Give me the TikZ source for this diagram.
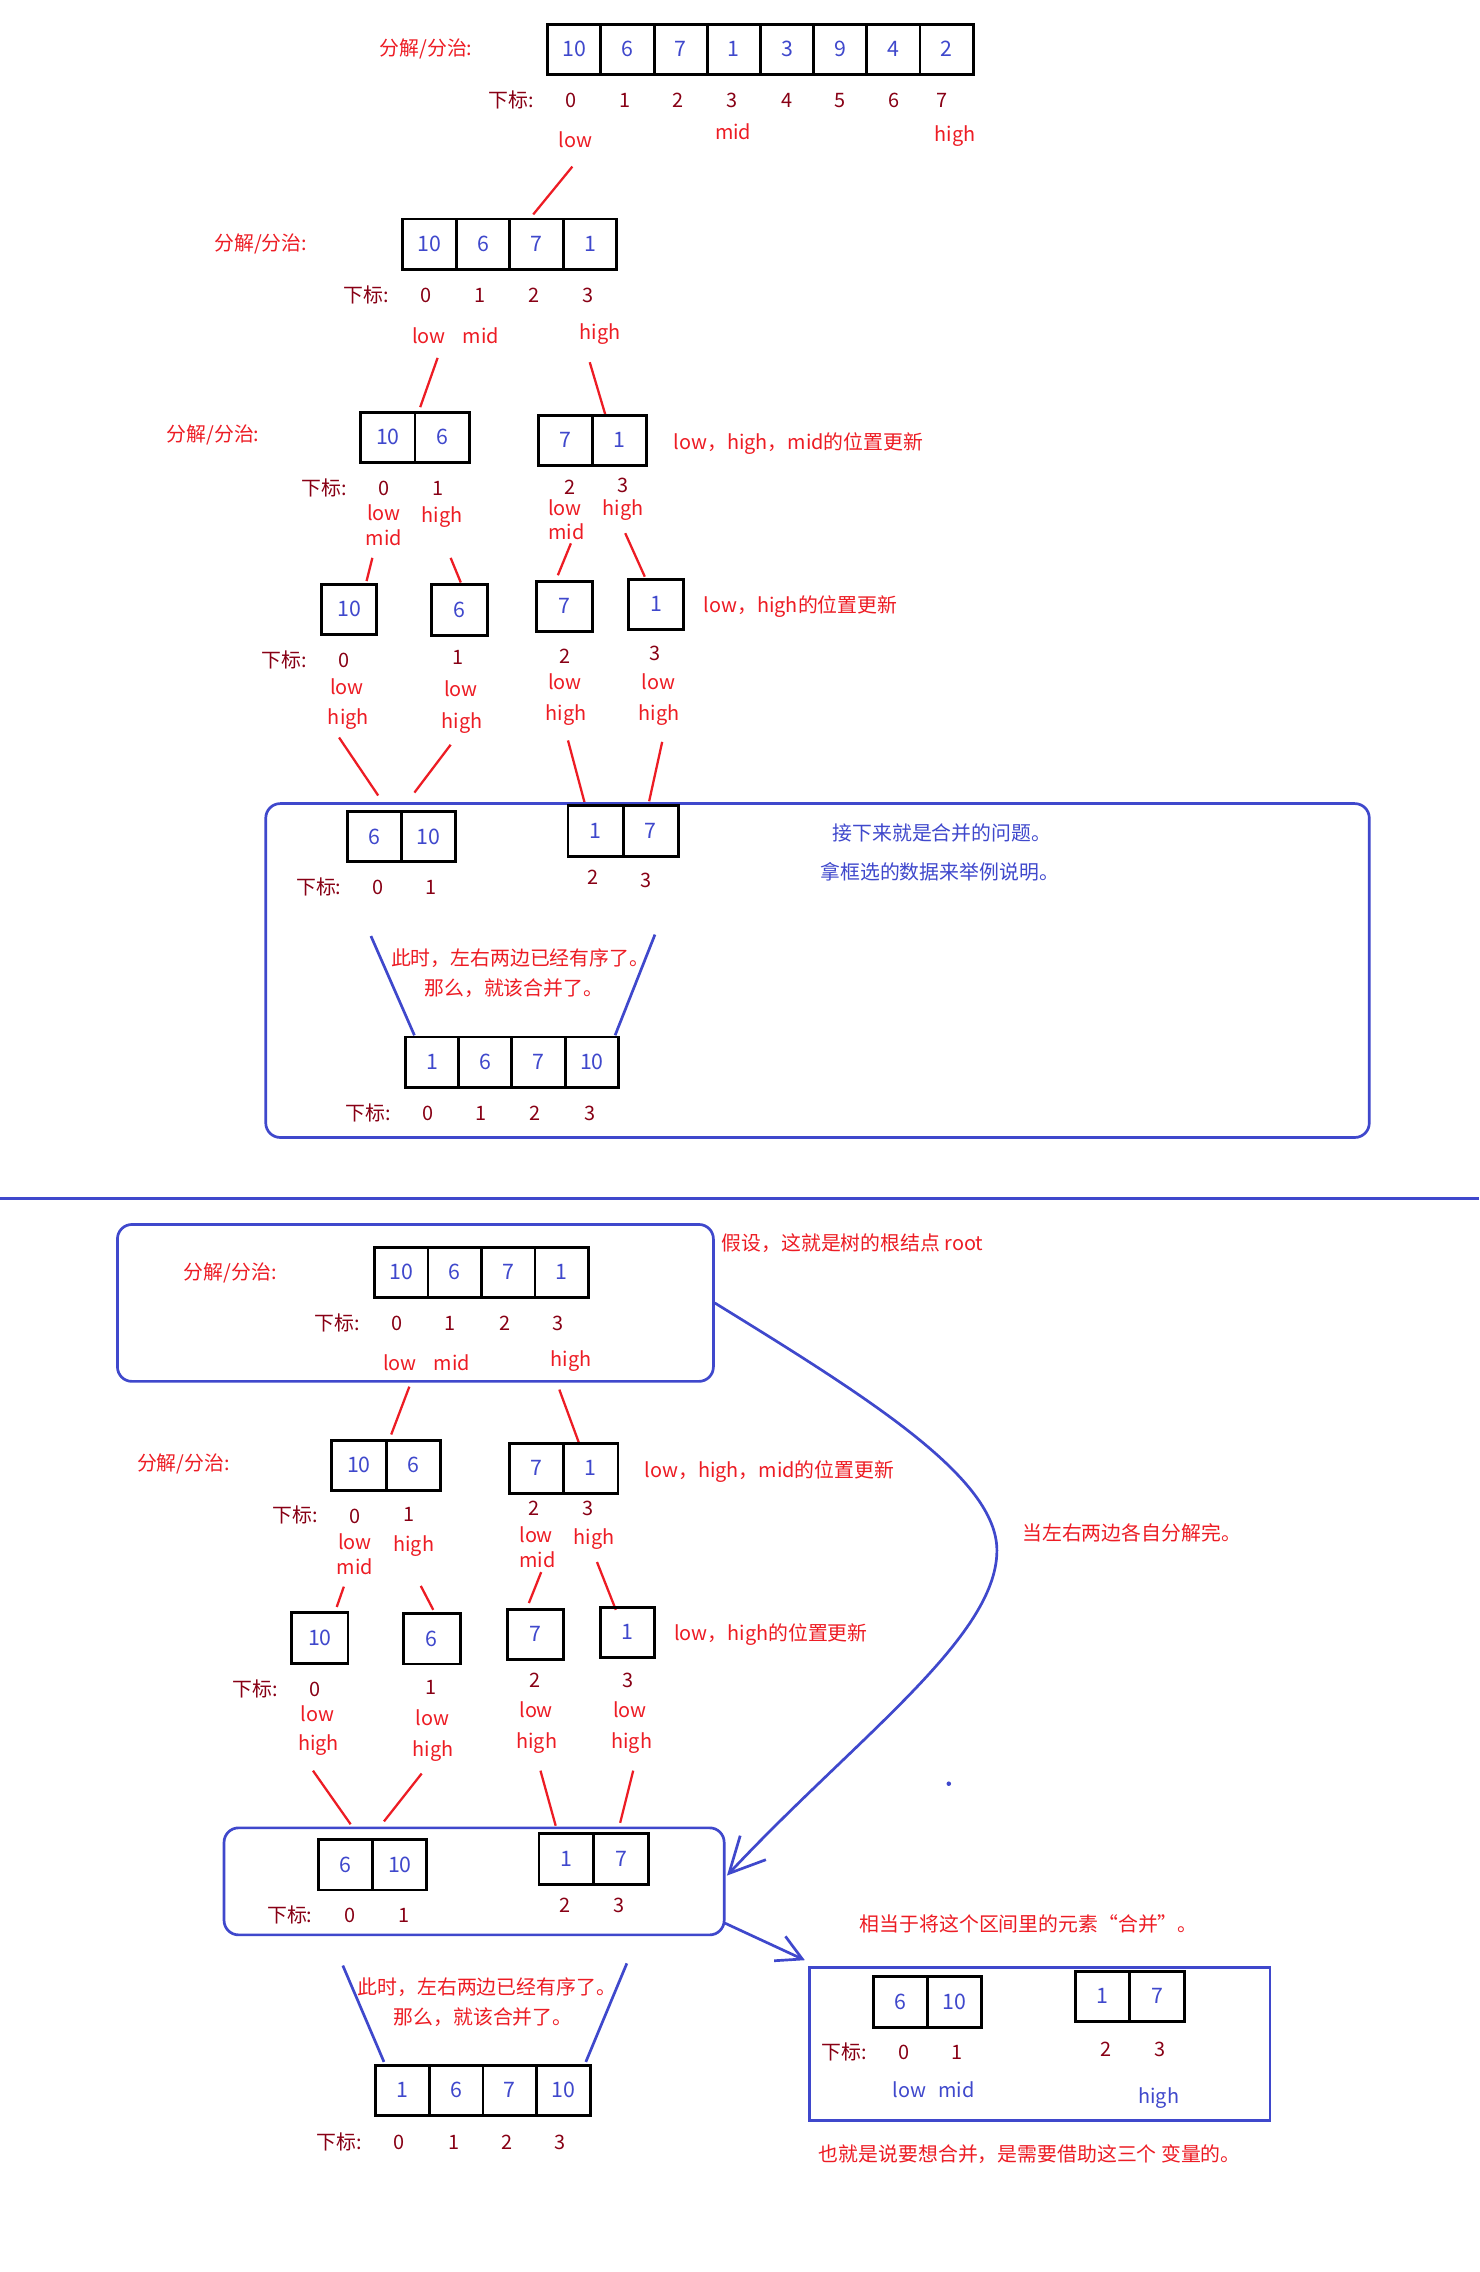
\documentclass[tikz,border=0pt]{standalone}
\usepackage{fontspec}
\setmainfont{Noto Sans CJK SC}
\usetikzlibrary{arrows.meta}
\definecolor{pred}{HTML}{ED1C24}
\definecolor{pdark}{HTML}{880015}
\definecolor{pblue}{HTML}{3F48CC}
\newcommand\myfs{\fontsize{9.6}{11}\selectfont}
\newcommand\mycfs{\fontsize{10.3}{12}\selectfont}
\newcommand\mkarr[5]{\foreach \cv [count=\ci] in {#5}{\node[cell, minimum width=#4*0.7pt] (#1-\ci) at ({#2+(\ci-0.5)*#4},#3) {\cv};}}
\newcommand\rln[3]{\coordinate (#1a) at (#2); \coordinate (#1b) at (#3); \draw[rl] (#1a) -- (#1b);}
\newcommand\bln[3]{\coordinate (#1a) at (#2); \coordinate (#1b) at (#3); \draw[bl] (#1a) -- (#1b);}
\begin{document}
\begin{tikzpicture}[x=0.7pt,y=-0.7pt,
  every node/.style={inner sep=0pt, font=\myfs, text height=8pt, text depth=1pt},
  rt/.style={text=pred},
  dt/.style={text=pdark},
  bt/.style={text=pblue},
  cell/.style={draw=black, line width=1.4pt, minimum height=24.3pt, text=pblue, font=\mycfs},
  rl/.style={draw=pred, line width=1.1pt},
  bl/.style={draw=pblue, line width=1.3pt},
  bbox/.style={draw=pblue, line width=1.3pt, rounded corners=7pt},
]
\useasboundingbox[fill=white] (0,0) rectangle (1021,1568);

% ===== top section =====
\node[rt] (fz1) at (294,33) {分解/分治:};
\mkarr{a1}{378}{34}{36.7}{10,6,7,1,3,9,4,2}
\node[dt] (xb1) at (353,69) {下标:};
\foreach \n/\x in {0/394,1/431,2/468,3/505,4/543,5/580,6/617,7/650} \node[dt] (i1-\n) at (\x,69) {\n};
\node[rt] (lo1) at (397,97) {low};
\node[rt] (mi1) at (506,91) {mid};
\node[rt] (hi1) at (659,93) {high};
\rln{r1}{395,115}{368,148}

\node[rt] (fz2) at (180,168) {分解/分治:};
\mkarr{a2}{278}{168.5}{36.9}{10,6,7,1}
\node[dt] (xb2) at (253,204) {下标:};
\foreach \n/\x in {0/294,1/331.5,2/368.6,3/405.6} \node[dt] (i2-\n) at (\x,204) {\n};
\node[rt] (lo2) at (296,232) {low};
\node[rt] (mi2) at (332,232) {mid};
\node[rt] (hi2) at (414,229) {high};
\rln{r2}{302,247}{290,281}
\rln{r3}{407,250}{418,287}

\node[rt] (fz3) at (147,300) {分解/分治:};
\mkarr{a3l}{249}{302}{37.4}{10,6}
\mkarr{a3r}{371.4}{304}{37.5}{7,1}
\node[rt] (up1) at (551,305) {low，high，mid的位置更新};
\node[dt] (xb3) at (224,337) {下标:};
\node[dt] (i3-0) at (265,337) {0};
\node[dt] (i3-1) at (302,337) {1};
\node[dt] (i3-2) at (393.5,336) {2};
\node[dt] (i3-3) at (430,335) {3};
\node[rt] (lo3a) at (265,354.5) {low};
\node[rt] (mi3a) at (265,371.5) {mid};
\node[rt] (hi3a) at (305,355.5) {high};
\node[rt] (lo3b) at (390,350.5) {low};
\node[rt] (mi3b) at (391,367) {mid};
\node[rt] (hi3b) at (430,351) {high};
\rln{r4}{257,385}{253,401}
\rln{r5}{311,385}{318,402}
\rln{r6}{394,375}{385,397}
\rln{r7}{431.5,368}{445,398}

\mkarr{a4a}{222}{420.5}{38}{10}
\mkarr{a4b}{298}{421}{38.5}{6}
\mkarr{a4c}{370}{418.5}{39}{7}
\mkarr{a4d}{433.5}{417}{38.5}{1}
\node[rt] (up2) at (552.5,417.6) {low，high的位置更新};
\node[dt] (xb4) at (196,455.6) {下标:};
\node[dt] (i4-0) at (237.3,455.6) {0};
\node[rt] (lo4a) at (239.5,474) {low};
\node[rt] (hi4a) at (240.4,494.7) {high};
\node[dt] (i4-1) at (316,453.3) {1};
\node[rt] (lo4b) at (318,476) {low};
\node[rt] (hi4b) at (319,498) {high};
\node[dt] (i4-2) at (390,452.8) {2};
\node[rt] (lo4c) at (390,471) {low};
\node[rt] (hi4c) at (390.6,492.4) {high};
\node[dt] (i4-3) at (452,450.5) {3};
\node[rt] (lo4d) at (454.6,471) {low};
\node[rt] (hi4d) at (455,492.4) {high};
\rln{r8}{234,509}{261,549}
\rln{r9}{311,514}{286,547}
\rln{r10}{392,511}{404,556}
\rln{r11}{457,512}{448,553}

\node[bbox, minimum width=533.1pt, minimum height=161.3pt] (bx1) at (564.2,669.8) {};
\mkarr{m1l}{240}{577.5}{37.2}{6,10}
\mkarr{m1r}{392}{573.5}{38}{1,7}
\node[dt] (xb5) at (220,612) {下标:};
\node[dt] (i5-0) at (261,612) {0};
\node[dt] (i5-1) at (297.7,612) {1};
\node[dt] (i5-2) at (409,605.6) {2};
\node[dt] (i5-3) at (446,607.5) {3};
\node[bt] (bt1) at (650,575) {接下来就是合并的问题。};
\node[bt] (bt2) at (648.5,602) {拿框选的数据来举例说明。};
\bln{bl1}{256,646}{286,714.5}
\bln{bl2}{452,645}{424.5,714.5}
\node[rt] (ms1) at (359,661) {此时，左右两边已经有序了。};
\node[rt] (ms2) at (354.6,682) {那么，就该合并了。};
\mkarr{m1}{279.7}{733}{36.8}{1,6,7,10}
\node[dt] (xb6) at (254,768.5) {下标:};
\foreach \n/\x in {0/295.4,1/332,2/369,3/407} \node[dt] (i6-\n) at (\x,768.5) {\n};

% separator
\coordinate (sepl) at (0,827.2);
\coordinate (sepr) at (1021,827.2);
\draw[bl] (sepl) -- (sepr);

% ===== bottom section =====
\node[bbox, minimum width=287.9pt, minimum height=75.8pt] (bx2) at (286.7,899.2) {};
\node[rt] (fz4) at (159,878) {分解/分治:};
\mkarr{b1}{258.5}{878.2}{36.9}{10,6,7,1}
\node[dt] (xb7) at (233,913.5) {下标:};
\foreach \n/\x in {0/274,1/310.7,2/348.4,3/385.2} \node[dt] (i7-\n) at (\x,913) {\n};
\node[rt] (lo7) at (276,941) {low};
\node[rt] (mi7) at (312,941) {mid};
\node[rt] (hi7) at (394,938.4) {high};
\node[rt, anchor=west] (root) at (497.8,858.3) {假设，这就是树的根结点 root};
\rln{s1}{282.5,957}{270,990}
\rln{s2}{386,959}{400,997}

\node[rt] (fz5) at (126.6,1010) {分解/分治:};
\mkarr{b2l}{229}{1011.5}{37.5}{10,6}
\mkarr{b2r}{351.7}{1013.4}{37.4}{7,1}
\node[rt] (up3) at (531,1014.8) {low，high，mid的位置更新};
\node[dt] (xb8) at (204,1046) {下标:};
\node[dt] (i8-0) at (245,1046.5) {0};
\node[dt] (i8-1) at (282,1045) {1};
\node[dt] (i8-2) at (368.3,1041) {2};
\node[dt] (i8-3) at (406,1041) {3};
\node[rt] (lo8a) at (245,1064.3) {low};
\node[rt] (mi8a) at (245,1081.5) {mid};
\node[rt] (hi8a) at (285.5,1065.4) {high};
\node[rt] (lo8b) at (370,1059.6) {low};
\node[rt] (mi8b) at (371,1077) {mid};
\node[rt] (hi8b) at (410,1060.7) {high};
\rln{s3}{237.3,1095}{232.4,1109}
\rln{s4}{290.4,1094.5}{299,1111}
\rln{s5}{373.5,1085}{365,1106.3}
\rln{s6}{412,1078}{425,1111}

\mkarr{b3a}{201.4}{1130.4}{38.8}{10}
\mkarr{b3b}{278.2}{1131}{39.3}{6}
\mkarr{b3c}{350.5}{1128}{38.4}{7}
\mkarr{b3d}{414.5}{1126.8}{37}{1}
\node[rt] (up4) at (532,1127) {low，high的位置更新};
\node[dt] (xb9) at (176,1165.5) {下标:};
\node[dt] (i9-0) at (217.3,1165.5) {0};
\node[rt] (lo9a) at (219,1183.2) {low};
\node[rt] (hi9a) at (219.8,1203.4) {high};
\node[dt] (i9-1) at (297.5,1164.4) {1};
\node[rt] (lo9b) at (298.6,1185.5) {low};
\node[rt] (hi9b) at (299,1207) {high};
\node[dt] (i9-2) at (369.5,1159.7) {2};
\node[rt] (lo9c) at (370,1180.5) {low};
\node[rt] (hi9c) at (370.5,1201.6) {high};
\node[dt] (i9-3) at (433.2,1159.7) {3};
\node[rt] (lo9d) at (434.7,1180.5) {low};
\node[rt] (hi9d) at (436,1201.6) {high};
\rln{s7}{216,1222}{242,1259}
\rln{s8}{291,1224}{265,1257}
\rln{s9}{373,1222}{383.5,1260}
\rln{s10}{437,1222}{428,1258}

\node[bbox, minimum width=241.6pt, minimum height=51.7pt] (bx3) at (327.2,1298.4) {};
\mkarr{b4l}{220}{1287}{37.3}{6,10}
\mkarr{b4r}{372}{1283}{37.9}{1,7}
\node[dt] (xb10) at (200,1322) {下标:};
\node[dt] (i10-0) at (241.4,1322) {0};
\node[dt] (i10-1) at (278.7,1322) {1};
\node[dt] (i10-2) at (390,1315) {2};
\node[dt] (i10-3) at (427.2,1315) {3};

% big curved arrow
\draw[bl, -{Straight Barb[length=17pt,width=17pt]}] (bx2.east) .. controls (600,965) and (688,1020) .. (688,1070)
   .. controls (688,1130) and (590,1200) .. ([shift={(1,-4)}]bx3.east);
\node[rt] (note1) at (781,1058.4) {当左右两边各自分解完。};
\fill[pblue] (654.8,1231) circle (1.1pt);

% right box
\node[draw=pblue, line width=1.3pt, minimum width=222.4pt, minimum height=74.1pt] (bx4) at (717.65,1410.55) {};
\coordinate (a2s) at (499.8,1327);
\draw[bl, -{Straight Barb[length=12pt,width=13pt]}] (a2s) -- ([shift={(-2.4,-3.9)}]bx4.north west);
\node[rt] (note2) at (710,1327.7) {相当于将这个区间里的元素“合并”。};
\mkarr{c1l}{602.7}{1381.7}{37.3}{6,10}
\mkarr{c1r}{742}{1377.8}{37.7}{1,7}
\node[dt] (xb11) at (582.5,1416.3) {下标:};
\node[dt] (i11-0) at (623.6,1416.3) {0};
\node[dt] (i11-1) at (660.7,1416.3) {1};
\node[dt] (i11-2) at (763.3,1414) {2};
\node[dt] (i11-3) at (800.3,1414) {3};
\node[bt] (lo11) at (627.6,1442.4) {low};
\node[bt] (mi11) at (660,1442.4) {mid};
\node[bt] (hi11) at (799.7,1447) {high};
\node[rt] (note3) at (710.7,1486.5) {也就是说要想合并，是需要借助这三个 变量的。};

% bottom merge
\bln{bl3}{236.6,1356.5}{265,1423}
\bln{bl4}{432.6,1355}{404.3,1423}
\node[rt] (ms3) at (336,1371.5) {此时，左右两边已经有序了。};
\node[rt] (ms4) at (333.4,1392.2) {那么，就该合并了。};
\mkarr{b5}{259.3}{1442.7}{37}{1,6,7,10}
\node[dt] (xb12) at (234,1478.4) {下标:};
\foreach \n/\x in {0/275.7,1/313,2/349.8,3/386.6} \node[dt] (i12-\n) at (\x,1478.4) {\n};
\end{tikzpicture}
\end{document}
